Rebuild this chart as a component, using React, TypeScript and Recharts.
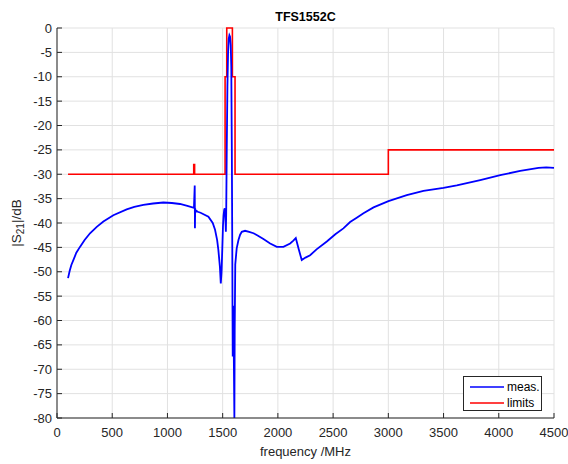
import React from "react";
import { LineChart, Line, XAxis, YAxis, CartesianGrid, Label } from "recharts";

const measFreq = [
  100, 115, 130, 148, 175, 208, 250, 299, 360, 420, 510, 631, 700, 782, 870, 963, 1040, 1114, 1180, 1240,
  1247, 1249, 1251, 1254, 1262, 1274, 1300, 1371, 1410, 1431, 1450, 1461, 1475, 1483,
  1490, 1497, 1503, 1508, 1514, 1519, 1524, 1529, 1532, 1537, 1543, 1549, 1555, 1561, 1567,
  1573, 1578, 1583, 1587, 1589, 1591, 1594, 1597, 1602, 1606, 1609, 1614, 1627, 1643, 1658,
  1673, 1703, 1740, 1779, 1820, 1869, 1930, 1990, 2050, 2111, 2140, 2162, 2190, 2216, 2250, 2292,
  2350, 2443, 2520, 2593, 2654, 2714, 2775, 2866, 3001, 3167, 3318, 3499, 3620, 3832, 4013, 4194,
  4360, 4430, 4500,
];
const measS21 = [
  -51.3, -49.8, -48.6, -47.6, -46.1, -44.9, -43.5, -42.1, -40.8, -39.7, -38.4, -37.2, -36.7, -36.3, -36, -35.8, -35.9, -36.1, -36.5, -36.9,
  -32.3, -41.1, -37, -37.8, -37.5, -37.7, -37.9, -38.7, -40, -41.4, -43.5, -45.5, -49, -52.4,
  -50, -45, -40.5, -38.5, -37.3, -37, -38.5, -41.8, -38, -25, -12, -5, -2.2, -1.5, -1.8,
  -3.5, -8, -25, -45, -57, -67.4, -60, -57, -70, -80, -62, -48.5, -45.2, -43.5, -42.4,
  -41.8, -41.6, -41.8, -42.1, -42.6, -43.3, -44.2, -44.9, -44.9, -44.2, -43.6, -43.1, -45.5, -47.6, -47.1, -46.6,
  -45.4, -43.8, -42.3, -41.1, -39.8, -38.9, -38, -36.8, -35.5, -34.3, -33.4, -32.8, -32.3, -31.2, -30.2, -29.3,
  -28.7, -28.6, -28.7,
];

const limitFreq = [100, 1238, 1238, 1246, 1246, 1522, 1522, 1537, 1537, 1588, 1588, 1612, 1612, 3000, 3000, 4500];
const limitVals = [-30, -30, -28, -28, -30, -30, -10, -10, 0, 0, -10, -10, -30, -30, -25, -25];

const xTicks = [0, 500, 1000, 1500, 2000, 2500, 3000, 3500, 4000, 4500];
const yTicks = [-80, -75, -70, -65, -60, -55, -50, -45, -40, -35, -30, -25, -20, -15, -10, -5, 0];

const measData = measFreq.map((f, i) => ({ f, v: measS21[i] }));
const limitData = limitFreq.map((f, i) => ({ f, v: limitVals[i] }));

const FONT = '"Liberation Sans", Arial, sans-serif';
const AX = "#262626";

export default function App() {
  return (
    <div
      style={{
        position: "fixed",
        left: 0,
        top: 0,
        width: 568,
        height: 464,
        overflow: "hidden",
        background: "#fff",
        fontFamily: FONT,
      }}
    >
      <div
        style={{
          position: "absolute",
          left: 57,
          width: 497,
          top: 8,
          height: 18,
          lineHeight: "18px",
          textAlign: "center",
          fontWeight: "bold",
          fontSize: 12.5,
          color: "#000",
          zIndex: 2,
        }}
      >
        TFS1552C
      </div>
      <LineChart width={568} height={464} margin={{ top: 28, right: 14, bottom: 8, left: 0 }}>
        <CartesianGrid stroke="#e1e1e1" strokeWidth={1} horizontal vertical />
        <XAxis
          dataKey="f"
          type="number"
          domain={[0, 4500]}
          ticks={xTicks}
          height={38}
          tickSize={-5}
          tickMargin={15}
          stroke={AX}
          tick={{ fill: AX, fontSize: 13, fontFamily: FONT }}
          interval={0}
        >
          <Label
            content={(props: any) => {
              const vb = props.viewBox || {};
              return (
                <text
                  x={vb.x + vb.width / 2}
                  y={456}
                  textAnchor="middle"
                  fill={AX}
                  fontSize={13}
                  fontFamily={FONT}
                >
                  frequency /MHz
                </text>
              );
            }}
          />
        </XAxis>
        <YAxis
          dataKey="v"
          type="number"
          domain={[-80, 0]}
          ticks={yTicks}
          width={57}
          tickSize={-5}
          tickMargin={10}
          stroke={AX}
          tick={{ fill: AX, fontSize: 13, fontFamily: FONT }}
          interval={0}
        >
          <Label
            content={(props: any) => {
              const vb = props.viewBox || {};
              const cx = 21;
              const cy = vb.y + vb.height / 2;
              return (
                <text
                  x={cx}
                  y={cy}
                  transform={`rotate(-90, ${cx}, ${cy})`}
                  textAnchor="middle"
                  fill={AX}
                  fontSize={13.5}
                  fontFamily={FONT}
                >
                  |S
                  <tspan dy={3} fontSize={10}>21</tspan>
                  <tspan dy={-3}>|/dB</tspan>
                </text>
              );
            }}
          />
        </YAxis>
        <Line
          data={limitData}
          dataKey="v"
          type="linear"
          stroke="#ff0000"
          strokeWidth={1.6}
          dot={false}
          isAnimationActive={false}
        />
        <Line
          data={measData}
          dataKey="v"
          type="linear"
          stroke="#0000ff"
          strokeWidth={1.8}
          dot={false}
          isAnimationActive={false}
        />
      </LineChart>
      <div
        style={{
          position: "absolute",
          left: 463,
          top: 376,
          width: 79,
          height: 35,
          border: `1px solid ${AX}`,
          background: "#fff",
          fontSize: 12,
          color: "#000",
          boxSizing: "border-box",
          zIndex: 2,
        }}
      >
        <div style={{ position: "absolute", left: 6, top: 2, height: 16, display: "flex", alignItems: "center" }}>
          <svg width={34} height={4} style={{ display: "block" }}>
            <line x1={0} y1={2} x2={34} y2={2} stroke="#0000ff" strokeWidth={1.5} />
          </svg>
          <span style={{ marginLeft: 3, lineHeight: "16px" }}>meas.</span>
        </div>
        <div style={{ position: "absolute", left: 6, top: 18, height: 16, display: "flex", alignItems: "center" }}>
          <svg width={34} height={4} style={{ display: "block" }}>
            <line x1={0} y1={2} x2={34} y2={2} stroke="#ff0000" strokeWidth={1.5} />
          </svg>
          <span style={{ marginLeft: 3, lineHeight: "16px" }}>limits</span>
        </div>
      </div>
    </div>
  );
}
